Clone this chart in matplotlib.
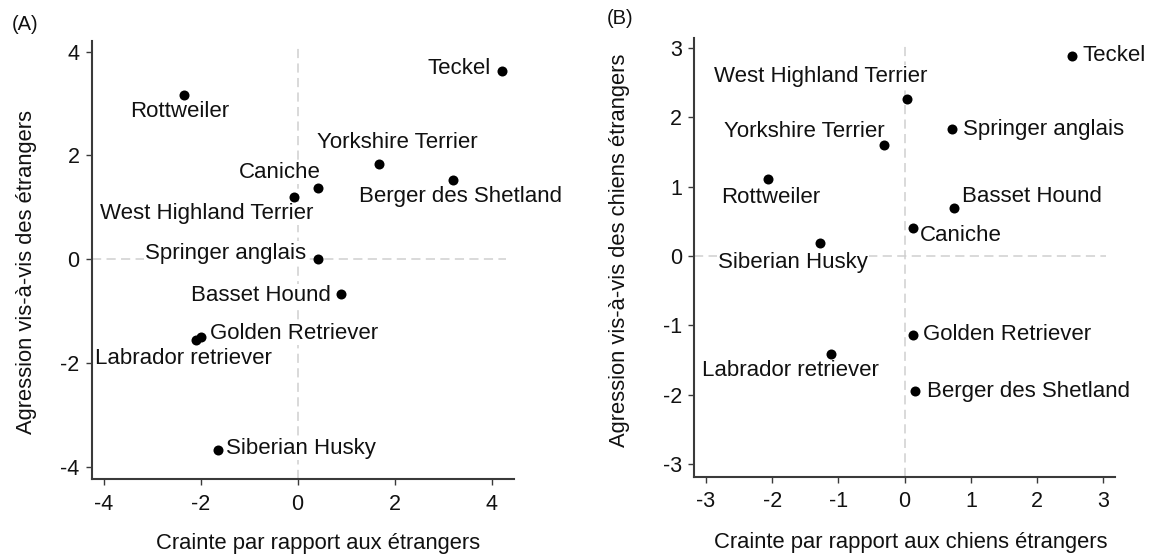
import matplotlib
matplotlib.use("Agg")
import matplotlib.pyplot as plt

plt.rcParams['font.family'] = ['Liberation Sans', 'DejaVu Sans']
plt.rcParams['axes.unicode_minus'] = False

# Panel A : crainte / agression vis-a-vis des etrangers
breeds_a = ["Teckel", "Rottweiler", "Yorkshire Terrier", "Berger des Shetland",
            "Caniche", "West Highland Terrier", "Springer anglais", "Basset Hound",
            "Golden Retriever", "Labrador retriever", "Siberian Husky"]
fear_a = [4.21, -2.34, 1.67, 3.21, 0.42, -0.08, 0.42, 0.90, -1.99, -2.10, -1.65]
aggr_a = [3.63, 3.17, 1.84, 1.53, 1.37, 1.19, 0.00, -0.67, -1.51, -1.56, -3.69]

# Panel B : crainte / agression vis-a-vis des chiens etrangers
breeds_b = ["Teckel", "West Highland Terrier", "Springer anglais", "Yorkshire Terrier",
            "Rottweiler", "Basset Hound", "Caniche", "Siberian Husky",
            "Golden Retriever", "Labrador retriever", "Berger des Shetland"]
fear_b = [2.53, 0.04, 0.72, -0.31, -2.07, 0.74, 0.12, -1.28, 0.13, -1.11, 0.15]
aggr_b = [2.88, 2.26, 1.83, 1.60, 1.11, 0.69, 0.40, 0.19, -1.14, -1.41, -1.95]

# label placement: (dx px, dy px, ha)
place_a = [(-11, 2, 'right'), (-4, -17, 'center'), (19, 21, 'center'),
           (7, -17, 'center'), (3, 16, 'right'), (20, -16, 'right'),
           (-12, 6, 'right'), (-10, -2, 'right'), (9, 4, 'left'),
           (-12, -18, 'center'), (8, 2, 'left')]
place_b = [(10, 1, 'left'), (20, 23, 'right'), (11, 0, 'left'),
           (0, 14, 'right'), (3, -18, 'center'), (8, 12, 'left'),
           (7, -7, 'left'), (-27, -20, 'center'), (10, 1, 'left'),
           (-41, -17, 'center'), (12, 0, 'left')]

FS = 16
SPINE = '#3a3a3a'
REF = '#cfcfcf'


def Panel(ax, xs, ys, names, place, lims, ticks, xlab, ylab, xlc, ylc):
    """Draws one scatter panel with labelled breeds"""
    ax.set_xlim(lims[0])
    ax.set_ylim(lims[1])
    ax.set_xticks(ticks)
    ax.set_yticks(ticks)

    ax.axhline(0, xmax=0.98, color=REF, lw=1.1, ls=(0, (6, 3.5)), zorder=1)
    ax.axvline(0, ymax=0.99, color=REF, lw=1.1, ls=(0, (6, 3.5)), zorder=1)

    ax.scatter(xs, ys, s=52, color='black', zorder=4, linewidths=0)

    for x, y, name, (dx, dy, ha) in zip(xs, ys, names, place):
        ax.annotate(name, (x, y), xytext=(dx, dy), textcoords='offset pixels',
                    ha=ha, va='center', fontsize=FS, color='#111111', zorder=3,
                    bbox=dict(boxstyle='square,pad=0.05', fc='white', ec='none'))

    for side in ['top', 'right']:
        ax.spines[side].set_visible(False)
    for side in ['left', 'bottom']:
        ax.spines[side].set_color(SPINE)
        ax.spines[side].set_linewidth(1.5)

    ax.tick_params(axis='both', direction='out', length=4.5, width=1,
                   color=SPINE, labelsize=15.5, labelcolor='#111111')
    ax.tick_params(axis='x', pad=6)
    ax.tick_params(axis='y', pad=4)

    ax.set_xlabel(xlab, fontsize=15.8, va='center', color='#111111')
    ax.set_ylabel(ylab, fontsize=15.8, va='center', color='#111111')
    ax.xaxis.set_label_coords(*xlc)
    ax.yaxis.set_label_coords(*ylc)


fig = plt.figure(figsize=(11.53, 5.55), dpi=100)

axA = fig.add_axes([0.0794, 0.1369, 0.3667, 0.7897])
Panel(axA, fear_a, aggr_a, breeds_a, place_a,
      ((-4.25, 4.47), (-4.24, 4.21)), [-4, -2, 0, 2, 4],
      "Crainte par rapport aux étrangers",
      "Agression vis-à-vis des étrangers",
      (0.536, -0.146), (-0.153, 0.472))

axB = fig.add_axes([0.6019, 0.1411, 0.3649, 0.7899])
Panel(axB, fear_b, aggr_b, breeds_b, place_b,
      ((-3.18, 3.17), (-3.18, 3.14)), [-3, -2, -1, 0, 1, 2, 3],
      "Crainte par rapport aux chiens étrangers",
      "Agression vis-à-vis des chiens étrangers",
      (0.516, -0.151), (-0.178, 0.517))

fig.text(25 / 1153, 1 - 25 / 555, "(A)", fontsize=14.5, ha='center', va='center', color='#111111')
fig.text(620 / 1153, 1 - 18 / 555, "(B)", fontsize=14.5, ha='center', va='center', color='#111111')

fig.savefig("out.png", dpi=100)
